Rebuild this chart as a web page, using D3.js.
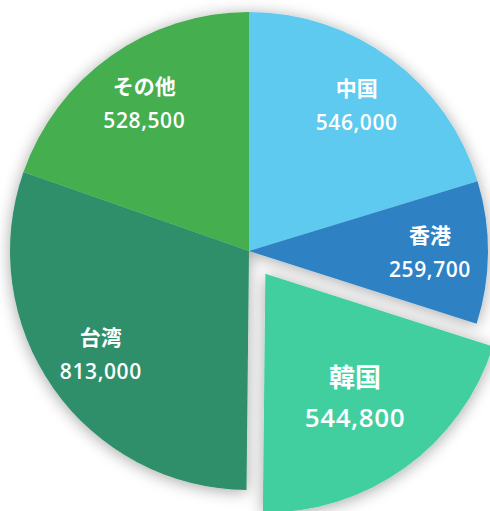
<!DOCTYPE html>
<html lang="ja">
<head>
<meta charset="UTF-8">
<script src="https://cdn.jsdelivr.net/npm/d3@7"></script>
<style>
    body { margin: 0; background: #fff; }
    svg { display: block; }
    .lbl { font-family: "Noto Sans CJK JP", sans-serif; font-weight: bold; fill: #fff; }
    .val { font-family: "Open Sans", sans-serif; font-weight: 600; fill: #fff; letter-spacing: 0.6px; }
</style>
</head>
<body>
<div id="chart"></div>
<script>
    const regions = ["中国", "香港", "韓国", "台湾", "その他"];
    const visitors = [546000, 259700, 544800, 813000, 528500];
    const colors = ["#5ecaef", "#2d82c4", "#43cf9f", "#2e8f6a", "#45ae50"];
    const exploded = "韓国";

    const width = 490, height = 511;
    const cx = 249, cy = 251, radius = 239;
    const explodeBy = 28, labelR = 181;

    const svg = d3.select("#chart").append("svg")
        .attr("width", width)
        .attr("height", height);

    // soft grey shadow round the whole pie
    const shadow = svg.append("defs").append("filter")
        .attr("id", "shadow")
        .attr("x", "-20%").attr("y", "-20%")
        .attr("width", "140%").attr("height", "140%");
    shadow.append("feGaussianBlur").attr("in", "SourceAlpha").attr("stdDeviation", 8);
    shadow.append("feOffset").attr("dx", 0).attr("dy", 2).attr("result", "blur");
    shadow.append("feComponentTransfer").append("feFuncA").attr("type", "linear").attr("slope", 0.35);
    const merge = shadow.append("feMerge");
    merge.append("feMergeNode");
    merge.append("feMergeNode").attr("in", "SourceGraphic");

    const data = regions.map((r, i) => ({ region: r, value: visitors[i], color: colors[i] }));

    const pie = d3.pie().sort(null).value(d => d.value);
    const arcs = pie(data);

    const arc = d3.arc().innerRadius(0).outerRadius(radius);
    const labelArc = d3.arc().innerRadius(labelR).outerRadius(labelR);

    const g = svg.append("g").attr("transform", `translate(${cx},${cy})`);

    function shift(d) {
        if (d.data.region !== exploded) return [0, 0];
        const a = (d.startAngle + d.endAngle) / 2;
        return [Math.sin(a) * explodeBy, -Math.cos(a) * explodeBy];
    }

    g.append("g")
        .attr("filter", "url(#shadow)")
        .selectAll("path")
        .data(arcs)
        .enter()
        .append("path")
        .attr("d", arc)
        .attr("fill", d => d.data.color)
        .attr("transform", d => `translate(${shift(d)})`);

    const labels = g.selectAll(".label")
        .data(arcs)
        .enter()
        .append("g")
        .attr("transform", d => `translate(${labelArc.centroid(d)})`);

    const big = d => d.data.region === exploded;

    labels.append("text")
        .attr("class", "lbl")
        .attr("text-anchor", "middle")
        .attr("y", d => big(d) ? -20 : -17)
        .attr("dy", "0.35em")
        .style("font-size", d => big(d) ? "26px" : "21px")
        .text(d => d.data.region);

    labels.append("text")
        .attr("class", "val")
        .attr("text-anchor", "middle")
        .attr("y", d => big(d) ? 20 : 17)
        .attr("dy", "0.35em")
        .style("font-size", d => big(d) ? "26px" : "21px")
        .text(d => d3.format(",")(d.data.value));
</script>
</body>
</html>
